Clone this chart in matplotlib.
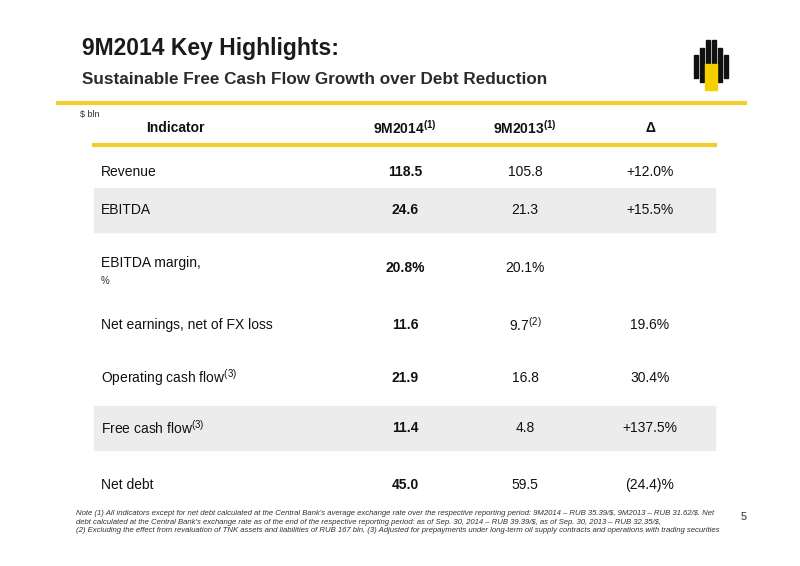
import matplotlib
matplotlib.use("Agg")
import matplotlib.pyplot as plt
from matplotlib.patches import Rectangle

plt.rcParams['font.family'] = ['Liberation Sans', 'DejaVu Sans']
plt.rcParams['mathtext.fontset'] = 'custom'
plt.rcParams['mathtext.rm'] = 'Liberation Sans'
plt.rcParams['mathtext.bf'] = 'Liberation Sans:bold'

indicators = ["Revenue", "EBITDA", "EBITDA margin,\n%", "Net earnings, net of FX loss",
              "Operating cash flow$^{(3)}$", "Free cash flow$^{(3)}$", "Net debt"]
v2014 = ["118.5", "24.6", "20.8%", "11.6", "21.9", "11.4", "45.0"]
v2013 = ["105.8", "21.3", "20.1%", "9.7$^{(2)}$", "16.8", "4.8", "59.5"]
delta = ["+12.0%", "+15.5%", "", "19.6%", "30.4%", "+137.5%", "(24.4)%"]
headers = ["Indicator", "9M2014$^{\\mathbf{(1)}}$", "9M2013$^{\\mathbf{(1)}}$", "Δ"]

row_y = [172, 210, 268, 325, 378, 428, 485]
shaded = [1, 5]

fig = plt.figure(figsize=(8, 5.66), dpi=100)
ax = fig.add_axes([0, 0, 1, 1])
ax.set_xlim(0, 800); ax.set_ylim(566, 0); ax.axis("off")

ax.text(82, 48, "9M2014 Key Highlights:", fontsize=16.5, fontweight="bold", color="#1a1a1a", va="center")
ax.text(82, 79, "Sustainable Free Cash Flow Growth over Debt Reduction", fontsize=12.3, fontweight="bold", color="#2a2a2a", va="center")
ax.plot([58, 745], [103, 103], color="#f2cd2e", lw=3)
ax.plot([94, 715], [145, 145], color="#f2cd2e", lw=3)
ax.text(80, 114, "$ bln", fontsize=6.5, color="#333", va="center")

for x, top, bot in [(694, 55, 78), (700, 48, 82), (706, 40, 70), (712, 40, 70), (718, 48, 82), (724, 55, 78)]:
    ax.add_patch(Rectangle((x, top), 4, bot - top, color="#111"))
ax.add_patch(Rectangle((705, 64), 12, 26, color="#f5d000"))

xs = [175, 405, 525, 650]
for i, h in enumerate(headers):
    ax.text(xs[i], 128, h, fontsize=10, fontweight="bold", ha="center", va="center", color="#111")

for i in shaded:
    ax.add_patch(Rectangle((94, row_y[i] - 22), 621, 44, color="#ececec", zorder=0))

for i, y in enumerate(row_y):
    if "\n" in indicators[i]:
        first, second = indicators[i].split("\n")
        ax.text(101, y - 5, first, fontsize=10, va="center", color="#111")
        ax.text(101, y + 13, second, fontsize=7, va="center", color="#333")
    else:
        ax.text(101, y, indicators[i], fontsize=10, va="center", color="#111")
    ax.text(xs[1], y, v2014[i], fontsize=10, fontweight="bold", ha="center", va="center", color="#111")
    ax.text(xs[2], y, v2013[i], fontsize=10, ha="center", va="center", color="#111")
    ax.text(xs[3], y, delta[i], fontsize=10, ha="center", va="center", color="#111")

note = ("Note (1) All indicators except for net debt calculated at the Central Bank's average exchange rate over the respective reporting period: 9M2014 – RUB 35.39/\\$, 9M2013 – RUB 31.62/\\$. Net\n"
        "debt calculated at the Central Bank's exchange rate as of the end of the respective reporting period: as of Sep. 30, 2014 – RUB 39.39/\\$, as of Sep. 30, 2013 – RUB 32.35/\\$,\n"
        "(2) Excluding the effect from revaluation of TNK assets and liabilities of RUB 167 bln, (3) Adjusted for prepayments under long-term oil supply contracts and operations with trading securities")
ax.text(76, 522, note, fontsize=5.6, style="italic", color="#333", va="center", linespacing=1.35)
ax.text(741, 517, "5", fontsize=8, color="#333", va="center")

fig.savefig("out.png", dpi=100)
